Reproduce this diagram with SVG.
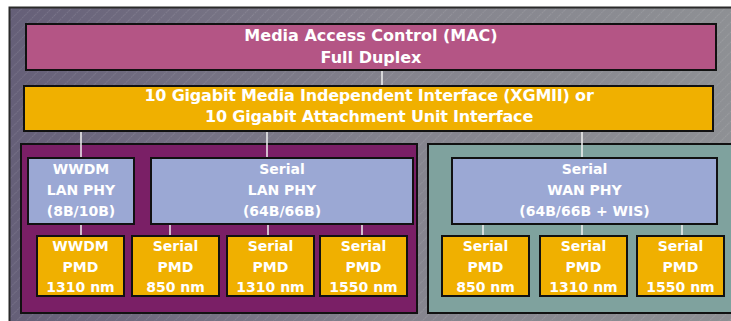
<svg xmlns="http://www.w3.org/2000/svg" width="731" height="321" viewBox="0 0 731 321">
<defs>
<linearGradient id="bg" x1="9" y1="0" x2="731" y2="0" gradientUnits="userSpaceOnUse">
<stop offset="0" stop-color="#655f78"/>
<stop offset="0.55" stop-color="#85848e"/>
<stop offset="1" stop-color="#8e9094"/>
</linearGradient>
<pattern id="hatch" width="7" height="7" patternUnits="userSpaceOnUse" patternTransform="rotate(45)">
<line x1="0" y1="0" x2="0" y2="7" stroke="#ffffff" stroke-opacity="0.2" stroke-width="1.1" stroke-dasharray="1.5 1"/>
</pattern>
</defs>
<style>
.box{stroke:#111;stroke-width:2}
.mac{fill:#b45585}
.xg{fill:#f0b000}
.phy{fill:#9ba8d4}
.pmd{fill:#f0b000}
.t{font-family:"DejaVu Sans",Verdana,sans-serif;font-weight:bold;fill:#fff;text-anchor:middle}
.big{font-size:16px}
.tight{letter-spacing:-0.2px}
.sm{font-size:14px}
.con line{stroke:#f2f2f2;stroke-width:1.5}
</style>
<rect width="731" height="321" fill="#ffffff"/>
<rect x="9" y="7" width="730" height="320" fill="url(#bg)"/>
<rect x="9" y="7" width="730" height="320" fill="url(#hatch)"/>
<path d="M9.5 321 V7.5 H731" fill="none" stroke="#2a2a2a" stroke-width="2"/>
<g id="panel-lan"><rect x="21" y="144" width="396" height="169" fill="#7a1f66" class="box"/></g>
<g id="panel-wan"><rect x="428" y="144" width="310" height="169" fill="#7fa29e" class="box"/></g>
<g class="con" id="connectors">
<line x1="382" y1="70" x2="382" y2="86"/>
<line x1="81" y1="131" x2="81" y2="158"/>
<line x1="267" y1="131" x2="267" y2="158"/>
<line x1="582" y1="131" x2="582" y2="158"/>
<line x1="81" y1="224" x2="81" y2="236"/>
<line x1="170" y1="224" x2="170" y2="236"/>
<line x1="268" y1="224" x2="268" y2="236"/>
<line x1="362" y1="224" x2="362" y2="236"/>
<line x1="483" y1="224" x2="483" y2="236"/>
<line x1="582" y1="224" x2="582" y2="236"/>
<line x1="682" y1="224" x2="682" y2="236"/>
</g>
<g id="mac"><rect x="26" y="24" width="690" height="46" class="box mac"/>
<text class="t big" x="371" y="41">Media Access Control (MAC)</text>
<text class="t big" x="371" y="63">Full Duplex</text></g>
<g id="xgmii"><rect x="24" y="86" width="689" height="45" class="box xg"/>
<text class="t big tight" x="369" y="101">10 Gigabit Media Independent Interface (XGMII) or</text>
<text class="t big tight" x="369" y="122">10 Gigabit Attachment Unit Interface</text></g>
<g id="wwdm-phy"><rect x="28" y="158" width="106" height="66" class="box phy"/>
<text class="t sm" x="81" y="174">WWDM</text>
<text class="t sm" x="81" y="195">LAN PHY</text>
<text class="t sm" x="81" y="216">(8B/10B)</text></g>
<g id="serial-lan-phy"><rect x="151" y="158" width="262" height="66" class="box phy"/>
<text class="t sm" x="282" y="174">Serial</text>
<text class="t sm" x="282" y="195">LAN PHY</text>
<text class="t sm" x="282" y="216">(64B/66B)</text></g>
<g id="wan-phy"><rect x="452" y="158" width="265" height="66" class="box phy"/>
<text class="t sm" x="584.5" y="174">Serial</text>
<text class="t sm" x="584.5" y="195">WAN PHY</text>
<text class="t sm" x="584.5" y="216">(64B/66B + WIS)</text></g>
<g id="pmd1"><rect x="37" y="236" width="87" height="60" class="box pmd"/>
<text class="t sm" x="80.5" y="251">WWDM</text><text class="t sm" x="80.5" y="271.5">PMD</text><text class="t sm" x="80.5" y="292">1310 nm</text></g>
<g id="pmd2"><rect x="132" y="236" width="87" height="60" class="box pmd"/>
<text class="t sm" x="175.5" y="251">Serial</text><text class="t sm" x="175.5" y="271.5">PMD</text><text class="t sm" x="175.5" y="292">850 nm</text></g>
<g id="pmd3"><rect x="227" y="236" width="87" height="60" class="box pmd"/>
<text class="t sm" x="270.5" y="251">Serial</text><text class="t sm" x="270.5" y="271.5">PMD</text><text class="t sm" x="270.5" y="292">1310 nm</text></g>
<g id="pmd4"><rect x="320" y="236" width="87" height="60" class="box pmd"/>
<text class="t sm" x="363.5" y="251">Serial</text><text class="t sm" x="363.5" y="271.5">PMD</text><text class="t sm" x="363.5" y="292">1550 nm</text></g>
<g id="pmd5"><rect x="442" y="236" width="87" height="60" class="box pmd"/>
<text class="t sm" x="485.5" y="251">Serial</text><text class="t sm" x="485.5" y="271.5">PMD</text><text class="t sm" x="485.5" y="292">850 nm</text></g>
<g id="pmd6"><rect x="540" y="236" width="87" height="60" class="box pmd"/>
<text class="t sm" x="583.5" y="251">Serial</text><text class="t sm" x="583.5" y="271.5">PMD</text><text class="t sm" x="583.5" y="292">1310 nm</text></g>
<g id="pmd7"><rect x="637" y="236" width="87" height="60" class="box pmd"/>
<text class="t sm" x="680.5" y="251">Serial</text><text class="t sm" x="680.5" y="271.5">PMD</text><text class="t sm" x="680.5" y="292">1550 nm</text></g>
</svg>
